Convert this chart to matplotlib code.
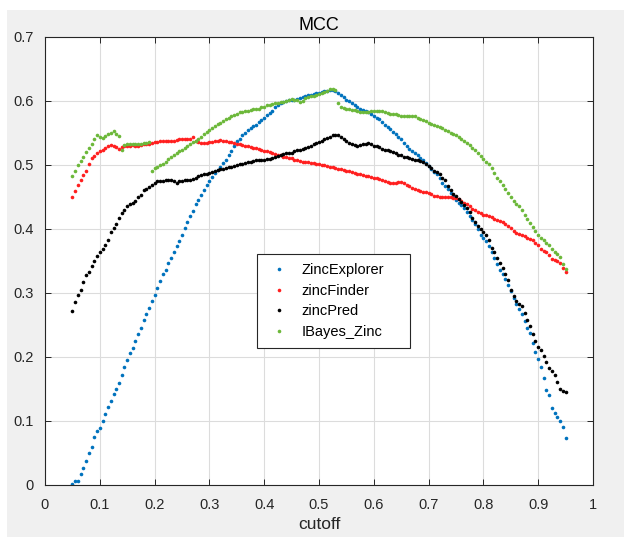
import numpy as np
import matplotlib
matplotlib.use("Agg")
import matplotlib.pyplot as plt
from matplotlib.patches import Rectangle

plt.rcParams['font.family'] = ['Liberation Sans', 'DejaVu Sans']

# cutoff values (step 0.005 from 0.05 to 0.95)
cutoff = np.round(np.arange(0.05, 0.9501, 0.005), 3)

zinc_explorer = [
    0.001, 0.005, 0.006, 0.016, 0.026, 0.036, 0.050, 0.058, 0.074, 0.083,
    0.089, 0.099, 0.111, 0.121, 0.131, 0.141, 0.150, 0.159, 0.172, 0.184,
    0.194, 0.206, 0.214, 0.224, 0.235, 0.245, 0.257, 0.266, 0.276, 0.287,
    0.296, 0.307, 0.318, 0.329, 0.336, 0.347, 0.355, 0.363, 0.373, 0.381,
    0.391, 0.402, 0.411, 0.420, 0.428, 0.438, 0.445, 0.453, 0.461, 0.468,
    0.475, 0.481, 0.487, 0.492, 0.497, 0.503, 0.508, 0.515, 0.522, 0.530,
    0.537, 0.541, 0.546, 0.550, 0.554, 0.557, 0.560, 0.563, 0.567, 0.570,
    0.574, 0.578, 0.581, 0.585, 0.590, 0.594, 0.597, 0.599, 0.600, 0.601,
    0.602, 0.602, 0.603, 0.604, 0.606, 0.608, 0.609, 0.610, 0.611, 0.612,
    0.613, 0.614, 0.615, 0.616, 0.617, 0.617, 0.615, 0.612, 0.609, 0.606,
    0.602, 0.600, 0.597, 0.594, 0.591, 0.588, 0.586, 0.584, 0.582, 0.579,
    0.577, 0.574, 0.571, 0.567, 0.563, 0.559, 0.556, 0.551, 0.548, 0.544,
    0.540, 0.534, 0.529, 0.525, 0.522, 0.518, 0.515, 0.511, 0.507, 0.503,
    0.498, 0.493, 0.489, 0.485, 0.479, 0.472, 0.467, 0.462, 0.456, 0.451,
    0.445, 0.441, 0.437, 0.432, 0.427, 0.420, 0.413, 0.407, 0.399, 0.391,
    0.386, 0.381, 0.373, 0.363, 0.355, 0.345, 0.336, 0.329, 0.321, 0.312,
    0.303, 0.292, 0.283, 0.274, 0.266, 0.256, 0.245, 0.237, 0.222, 0.208,
    0.196, 0.184, 0.166, 0.148, 0.140, 0.120, 0.112, 0.105, 0.100, 0.090,
    0.073,
]

zinc_finder = [
    0.450, 0.459, 0.468, 0.476, 0.484, 0.491, 0.501, 0.510, 0.514, 0.519,
    0.522, 0.524, 0.527, 0.529, 0.531, 0.529, 0.528, 0.525, 0.528, 0.529,
    0.530, 0.529, 0.531, 0.529, 0.530, 0.531, 0.532, 0.533, 0.533, 0.534,
    0.535, 0.536, 0.537, 0.537, 0.537, 0.538, 0.538, 0.538, 0.539, 0.540,
    0.540, 0.540, 0.541, 0.541, 0.543, 0.537, 0.535, 0.534, 0.534, 0.534,
    0.535, 0.536, 0.537, 0.538, 0.539, 0.538, 0.537, 0.536, 0.535, 0.534,
    0.533, 0.532, 0.531, 0.530, 0.529, 0.528, 0.527, 0.526, 0.525, 0.524,
    0.522, 0.521, 0.520, 0.518, 0.517, 0.516, 0.515, 0.513, 0.512, 0.511,
    0.510, 0.508, 0.507, 0.506, 0.505, 0.504, 0.504, 0.503, 0.503, 0.502,
    0.501, 0.500, 0.499, 0.498, 0.497, 0.496, 0.495, 0.494, 0.493, 0.492,
    0.491, 0.490, 0.489, 0.487, 0.486, 0.485, 0.484, 0.483, 0.482, 0.481,
    0.480, 0.479, 0.478, 0.476, 0.475, 0.473, 0.472, 0.472, 0.472, 0.473,
    0.473, 0.472, 0.469, 0.467, 0.464, 0.462, 0.461, 0.459, 0.458, 0.457,
    0.456, 0.454, 0.452, 0.451, 0.450, 0.450, 0.450, 0.449, 0.449, 0.448,
    0.448, 0.447, 0.444, 0.441, 0.438, 0.435, 0.431, 0.429, 0.426, 0.424,
    0.422, 0.421, 0.420, 0.418, 0.416, 0.414, 0.412, 0.410, 0.407, 0.404,
    0.401, 0.397, 0.394, 0.392, 0.390, 0.389, 0.386, 0.384, 0.382, 0.378,
    0.374, 0.368, 0.366, 0.363, 0.359, 0.353, 0.351, 0.349, 0.346, 0.339,
    0.333,
]

zinc_pred = [
    0.272, 0.286, 0.297, 0.305, 0.316, 0.327, 0.333, 0.342, 0.350, 0.357,
    0.363, 0.368, 0.375, 0.382, 0.395, 0.402, 0.408, 0.417, 0.425, 0.430,
    0.436, 0.438, 0.441, 0.444, 0.449, 0.453, 0.460, 0.463, 0.465, 0.468,
    0.472, 0.474, 0.475, 0.475, 0.476, 0.477, 0.476, 0.474, 0.472, 0.474,
    0.475, 0.476, 0.476, 0.477, 0.478, 0.480, 0.482, 0.484, 0.485, 0.486,
    0.488, 0.489, 0.490, 0.492, 0.493, 0.494, 0.495, 0.496, 0.497, 0.498,
    0.500, 0.501, 0.502, 0.503, 0.504, 0.505, 0.506, 0.507, 0.507, 0.508,
    0.508, 0.509, 0.509, 0.510, 0.512, 0.514, 0.516, 0.517, 0.518, 0.518,
    0.519, 0.521, 0.523, 0.524, 0.525, 0.527, 0.528, 0.530, 0.532, 0.534,
    0.536, 0.538, 0.540, 0.542, 0.544, 0.546, 0.547, 0.546, 0.543, 0.540,
    0.537, 0.534, 0.532, 0.531, 0.530, 0.531, 0.532, 0.533, 0.534, 0.532,
    0.530, 0.529, 0.528, 0.525, 0.524, 0.523, 0.522, 0.520, 0.518, 0.516,
    0.515, 0.513, 0.512, 0.510, 0.509, 0.508, 0.507, 0.506, 0.505, 0.502,
    0.498, 0.495, 0.491, 0.489, 0.485, 0.480, 0.476, 0.467, 0.460, 0.454,
    0.451, 0.447, 0.442, 0.437, 0.433, 0.427, 0.417, 0.410, 0.405, 0.400,
    0.395, 0.390, 0.382, 0.370, 0.364, 0.355, 0.347, 0.338, 0.329, 0.320,
    0.305, 0.295, 0.287, 0.283, 0.279, 0.268, 0.258, 0.248, 0.235, 0.224,
    0.215, 0.210, 0.201, 0.191, 0.183, 0.177, 0.171, 0.160, 0.149, 0.147,
    0.144,
]

ibayes_zinc = [
    0.483, 0.490, 0.500, 0.506, 0.512, 0.520, 0.527, 0.533, 0.540, 0.547,
    0.543, 0.542, 0.545, 0.548, 0.550, 0.553, 0.549, 0.545, 0.524, 0.531,
    0.532, 0.532, 0.532, 0.532, 0.532, 0.533, 0.534, 0.534, 0.535, 0.490,
    0.495, 0.497, 0.500, 0.502, 0.505, 0.509, 0.512, 0.515, 0.519, 0.522,
    0.524, 0.527, 0.529, 0.532, 0.535, 0.537, 0.540, 0.544, 0.548, 0.551,
    0.554, 0.557, 0.560, 0.564, 0.566, 0.569, 0.572, 0.574, 0.576, 0.578,
    0.580, 0.582, 0.583, 0.584, 0.585, 0.586, 0.587, 0.588, 0.588, 0.590,
    0.591, 0.593, 0.594, 0.595, 0.596, 0.597, 0.598, 0.599, 0.600, 0.602,
    0.603, 0.602, 0.601, 0.598, 0.600, 0.605, 0.606, 0.607, 0.608, 0.609,
    0.611, 0.612, 0.614, 0.616, 0.618, 0.618, 0.617, 0.596, 0.591, 0.589,
    0.588, 0.587, 0.586, 0.586, 0.585, 0.583, 0.583, 0.583, 0.583, 0.584,
    0.585, 0.584, 0.585, 0.584, 0.583, 0.581, 0.580, 0.579, 0.579, 0.578,
    0.577, 0.577, 0.577, 0.577, 0.576, 0.576, 0.574, 0.572, 0.570, 0.568,
    0.566, 0.564, 0.562, 0.561, 0.559, 0.557, 0.555, 0.553, 0.550, 0.548,
    0.546, 0.544, 0.541, 0.537, 0.534, 0.531, 0.527, 0.523, 0.519, 0.514,
    0.509, 0.505, 0.501, 0.495, 0.488, 0.480, 0.474, 0.468, 0.463, 0.456,
    0.450, 0.444, 0.439, 0.435, 0.429, 0.422, 0.416, 0.409, 0.403, 0.396,
    0.390, 0.385, 0.382, 0.378, 0.374, 0.368, 0.364, 0.360, 0.356, 0.345,
    0.337,
]

series_names = ["ZincExplorer", "zincFinder", "zincPred", "IBayes_Zinc"]
series_colors = ["#0072BD", "#FF1F1F", "#000000", "#6CB83A"]
x_ticks = [0, 0.1, 0.2, 0.3, 0.4, 0.5, 0.6, 0.7, 0.8, 0.9, 1]
x_tick_labels = ["0", "0.1", "0.2", "0.3", "0.4", "0.5", "0.6", "0.7", "0.8", "0.9", "1"]
y_ticks = [0, 0.1, 0.2, 0.3, 0.4, 0.5, 0.6, 0.7]
y_tick_labels = ["0", "0.1", "0.2", "0.3", "0.4", "0.5", "0.6", "0.7"]

fig = plt.figure(figsize=(6.24, 5.37), dpi=100)
fig.patch.set_facecolor("white")
fig.patches.append(Rectangle((7 / 624, 0), 1 - 7 / 624, 1 - 10 / 537,
                             transform=fig.transFigure, facecolor="#F0F0F0",
                             edgecolor="none", zorder=-10))

ax = fig.add_axes([45 / 624, (537 - 484.5) / 537, 548 / 624, 447.5 / 537])
ax.set_facecolor("white")

for vals, name, col in zip([zinc_explorer, zinc_finder, zinc_pred, ibayes_zinc],
                           series_names, series_colors):
    ax.plot(cutoff, vals, linestyle="none", marker="o", markersize=2.6,
            markeredgewidth=0, color=col, label=name)

ax.set_xlim(0, 1)
ax.set_ylim(0, 0.7)
ax.set_xticks(x_ticks)
ax.set_xticklabels(x_tick_labels)
ax.set_yticks(y_ticks)
ax.set_yticklabels(y_tick_labels)
ax.grid(True, color="#DCDCDC", linewidth=0.8)
ax.set_axisbelow(True)
ax.tick_params(direction="in", length=4, width=0.7, top=True, right=True,
               labelsize=10.5, colors="#262626")
ax.tick_params(axis="x", pad=10)
ax.tick_params(axis="y", pad=8)
for sp in ax.spines.values():
    sp.set_color("#262626")
    sp.set_linewidth(0.8)

ax.set_title("MCC", fontsize=13, color="#000000", pad=5)
ax.set_xlabel("cutoff", fontsize=12.5, color="#262626", labelpad=3)

leg = ax.legend(loc="lower left",
                bbox_to_anchor=(0.387, 0.306, 0.279, 0.2),
                mode="expand", fontsize=10.5,
                frameon=True, fancybox=False, edgecolor="#262626",
                framealpha=1, markerscale=1.0, handlelength=1.8,
                handletextpad=0.65, labelspacing=0.45, borderpad=0.6,
                borderaxespad=0)
leg.get_frame().set_linewidth(0.8)

fig.savefig("out.png", dpi=100, facecolor=fig.get_facecolor())
